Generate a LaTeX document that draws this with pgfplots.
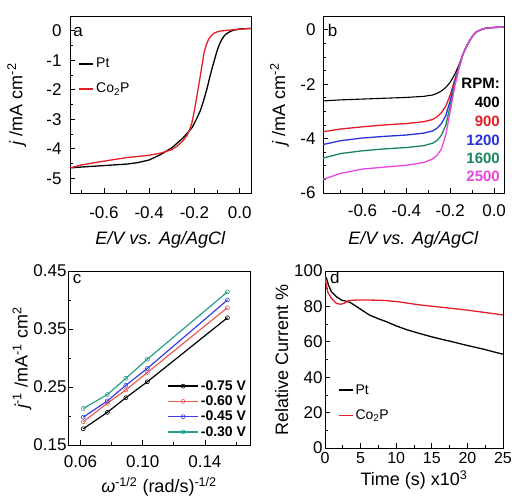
\documentclass[border=0pt]{standalone}
\usepackage{fontspec}
\setmainfont{Liberation Sans}
\usepackage{pgfplots}
\pgfplotsset{compat=1.18}

\definecolor{cred}{RGB}{228,30,38}
\definecolor{cblue}{RGB}{40,50,220}
\definecolor{cgreen}{RGB}{25,135,90}
\definecolor{cmag}{RGB}{232,70,222}
\definecolor{lred}{RGB}{238,90,85}
\definecolor{lblue}{RGB}{55,65,225}
\definecolor{lteal}{RGB}{40,160,140}

\pgfplotsset{
  panel/.style={
    scale only axis, anchor=south west,
    tick pos=left, tick align=inside,
    major tick length=5pt, minor tick length=3pt,
    every tick/.style={black, line width=0.7pt},
    axis line style={line width=0.8pt},
    /pgf/number format/assume math mode=true,
    tick label style={font=\fontsize{17}{19}\selectfont},
    label style={font=\fontsize{18}{20}\selectfont},
    xlabel style={anchor=center},
    ylabel style={anchor=center},
    legend cell align=left,
  },
  curve/.style={line width=1.3pt, mark=none},
  shortleg/.style={
    legend style={draw=none, fill=none, font=\fontsize{14}{16}\selectfont,
      row sep=10pt, inner sep=0pt},
    legend image code/.code={\draw[##1, line width=1.9pt] (0pt,0pt) -- (14pt,0pt);},
  },
}

\begin{document}
\begin{tikzpicture}
\path[use as bounding box] (0,0) rectangle (512pt,-501pt);

% ---- a ----
\begin{axis}[panel,
  at={(70pt,-193pt)}, width=181pt, height=177pt,
  xmin=-0.75, xmax=0.05, ymin=-5.5, ymax=0.5,
  xtick={-0.6,-0.4,-0.2,0}, minor xtick={-0.7,-0.5,-0.3,-0.1},
  ytick={-5,-4,-3,-2,-1,0}, minor ytick={-4.5,-3.5,-2.5,-1.5,-0.5},
  xticklabel style={/pgf/number format/.cd, fixed, fixed zerofill, precision=1, /tikz/.cd, yshift=-10pt},
  yticklabel style={xshift=-5pt},
  xlabel={\textit{E/V vs. Ag/AgCl}},
  ylabel={\textit{j} /mA cm\textsuperscript{-2}},
  xlabel style={at={(axis description cs:0.5,-0.266)}},
  ylabel style={at={(axis description cs:-0.295,0.5)}},
  shortleg,
  legend style={at={(axis description cs:0.045,0.775)}, anchor=north west},
]
\addplot[curve, black] coordinates {
 (-0.75,-4.65) (-0.7,-4.62) (-0.6,-4.57) (-0.5,-4.52) (-0.45,-4.47) (-0.4,-4.38)
 (-0.35,-4.2) (-0.3,-3.97) (-0.25,-3.63) (-0.21,-3.28) (-0.19,-2.98) (-0.174,-2.71)
 (-0.16,-2.38) (-0.145,-1.98) (-0.133,-1.6) (-0.123,-1.3) (-0.11,-0.95) (-0.1,-0.68)
 (-0.09,-0.47) (-0.078,-0.28) (-0.066,-0.15) (-0.056,-0.09) (-0.04,-0.02) (-0.027,0.02)
 (0,0.06) (0.05,0.08)};
\addlegendentry{Pt}
\addplot[curve, cred] coordinates {
 (-0.75,-4.65) (-0.7,-4.55) (-0.6,-4.42) (-0.5,-4.3) (-0.4,-4.22) (-0.35,-4.15)
 (-0.3,-4.03) (-0.278,-3.92) (-0.25,-3.72) (-0.233,-3.55) (-0.22,-3.33) (-0.211,-3.11)
 (-0.2,-2.7) (-0.189,-2.21) (-0.18,-1.8) (-0.174,-1.53) (-0.165,-1.1) (-0.157,-0.73)
 (-0.147,-0.47) (-0.137,-0.28) (-0.125,-0.16) (-0.115,-0.09) (-0.1,-0.04) (-0.086,-0.01)
 (-0.05,0.02) (0,0.05) (0.05,0.08)};
\addlegendentry{Co\textsubscript{2}P}
\node[anchor=base west, inner sep=0pt, font=\fontsize{17}{19}\selectfont] at (axis description cs:0.017,0.883) {a};
\end{axis}

% ---- b ----
\begin{axis}[panel,
  at={(323pt,-193pt)}, width=181pt, height=177pt,
  xmin=-0.78, xmax=0.045, ymin=-6, ymax=0.5,
  xtick={-0.6,-0.4,-0.2,0}, minor xtick={-0.7,-0.5,-0.3,-0.1},
  ytick={-6,-4,-2,0}, minor y tick num=3,
  xticklabel style={/pgf/number format/.cd, fixed, fixed zerofill, precision=1, /tikz/.cd, yshift=-8pt},
  yticklabel style={xshift=-4pt},
  xlabel={\textit{E/V vs. Ag/AgCl}},
  ylabel={\textit{j} /mA cm\textsuperscript{-2}},
  xlabel style={at={(axis description cs:0.5,-0.266)}},
  ylabel style={at={(axis description cs:-0.24,0.5)}},
]
\addplot[curve, black, line width=1.1pt] coordinates {
 (-0.78,-2.62) (-0.7,-2.58) (-0.6,-2.55) (-0.5,-2.52) (-0.4,-2.49) (-0.32,-2.45)
 (-0.28,-2.40) (-0.26,-2.34) (-0.24,-2.25) (-0.22,-2.12) (-0.2,-1.93) (-0.18,-1.65)
 (-0.16,-1.3) (-0.143,-0.92) (-0.125,-0.6) (-0.11,-0.38) (-0.095,-0.2) (-0.08,-0.08)
 (-0.06,0.0) (-0.04,0.05) (0,0.08) (0.045,0.09)};
\addplot[curve, cred] coordinates {
 (-0.78,-3.75) (-0.7,-3.65) (-0.6,-3.57) (-0.5,-3.5) (-0.4,-3.45) (-0.32,-3.38)
 (-0.28,-3.3) (-0.26,-3.2) (-0.24,-3.05) (-0.22,-2.8) (-0.2,-2.4) (-0.18,-1.85)
 (-0.16,-1.35) (-0.143,-0.92) (-0.125,-0.6) (-0.11,-0.38) (-0.095,-0.2) (-0.08,-0.08)
 (-0.06,0.0) (-0.04,0.05) (0,0.08) (0.045,0.09)};
\addplot[curve, cblue] coordinates {
 (-0.78,-4.22) (-0.7,-4.08) (-0.6,-3.98) (-0.5,-3.92) (-0.4,-3.87) (-0.32,-3.8)
 (-0.28,-3.72) (-0.26,-3.62) (-0.24,-3.45) (-0.22,-3.15) (-0.2,-2.6) (-0.18,-1.95)
 (-0.16,-1.38) (-0.143,-0.92) (-0.125,-0.6) (-0.11,-0.38) (-0.095,-0.2) (-0.08,-0.08)
 (-0.06,0.0) (-0.04,0.05) (0,0.08) (0.045,0.09)};
\addplot[curve, cgreen] coordinates {
 (-0.78,-4.72) (-0.7,-4.55) (-0.6,-4.45) (-0.5,-4.38) (-0.4,-4.33) (-0.32,-4.26)
 (-0.28,-4.17) (-0.26,-4.07) (-0.24,-3.88) (-0.22,-3.5) (-0.2,-2.8) (-0.18,-2.02)
 (-0.16,-1.4) (-0.143,-0.93) (-0.125,-0.6) (-0.11,-0.38) (-0.095,-0.2) (-0.08,-0.08)
 (-0.06,0.0) (-0.04,0.05) (0,0.08) (0.045,0.09)};
\addplot[curve, cmag] coordinates {
 (-0.78,-5.5) (-0.7,-5.28) (-0.6,-5.12) (-0.5,-5.05) (-0.4,-4.98) (-0.32,-4.88)
 (-0.28,-4.75) (-0.26,-4.62) (-0.24,-4.38) (-0.22,-3.85) (-0.2,-3.0) (-0.18,-2.1)
 (-0.16,-1.42) (-0.143,-0.94) (-0.125,-0.6) (-0.11,-0.38) (-0.095,-0.2) (-0.08,-0.08)
 (-0.06,0.0) (-0.04,0.05) (0,0.08) (0.045,0.1)};
\begin{scope}[every node/.style={anchor=east, inner sep=0pt, font=\bfseries\fontsize{15}{17}\selectfont}]
\node[text=black] at (axis description cs:0.978,0.62) {RPM:};
\node[text=black] at (axis description cs:0.978,0.51) {400};
\node[text=cred] at (axis description cs:0.978,0.405) {900};
\node[text=cblue] at (axis description cs:0.978,0.30) {1200};
\node[text=cgreen] at (axis description cs:0.978,0.196) {1600};
\node[text=cmag] at (axis description cs:0.978,0.092) {2500};
\end{scope}
\node[anchor=base west, inner sep=0pt, font=\fontsize{17}{19}\selectfont] at (axis description cs:0.026,0.883) {b};
\end{axis}

% ---- c ----
\begin{axis}[panel,
  at={(68pt,-445pt)}, width=182pt, height=174pt,
  xmin=0.052, xmax=0.169, ymin=0.15, ymax=0.45,
  xtick={0.06,0.10,0.14}, minor xtick={0.08,0.12,0.16},
  ytick={0.15,0.25,0.35,0.45}, minor ytick={0.20,0.30,0.40},
  xticklabel style={/pgf/number format/.cd, fixed, fixed zerofill, precision=2, /tikz/.cd, yshift=-7pt},
  yticklabel style={/pgf/number format/.cd, fixed, fixed zerofill, precision=2, /tikz/.cd, xshift=2pt},
  xlabel={\textit{ω}\textsuperscript{-1/2} (rad/s)\textsuperscript{-1/2}},
  ylabel={\textit{j}\textsuperscript{-1} /mA\textsuperscript{-1} cm\textsuperscript{2}},
  xlabel style={at={(axis description cs:0.5,-0.24)}},
  ylabel style={at={(axis description cs:-0.253,0.5)}},
  legend style={at={(axis description cs:0.99,0.03)}, anchor=south east,
    draw=none, fill=none, font=\bfseries\fontsize{14}{16}\selectfont, row sep=0pt, inner sep=0pt},
  legend image code/.code={\draw[mark repeat=2, mark phase=2, #1, line width=1.6pt] plot coordinates {(0pt,0pt) (15pt,0pt) (30pt,0pt)};},
  every axis plot/.append style={line width=1.2pt, mark=o, mark size=2pt, mark options={fill=white, line width=0.6pt}},
]
\addplot[black] coordinates {(0.0618,0.178) (0.0773,0.2063) (0.0892,0.2316) (0.1030,0.259) (0.1545,0.3695)};
\addlegendentry{-0.75 V}
\addplot[lred] coordinates {(0.0618,0.190) (0.0773,0.222) (0.0892,0.245) (0.1030,0.275) (0.1545,0.3868)};
\addlegendentry{-0.60 V}
\addplot[lblue] coordinates {(0.0618,0.198) (0.0773,0.226) (0.0892,0.253) (0.1030,0.282) (0.1545,0.400)};
\addlegendentry{-0.45 V}
\addplot[lteal] coordinates {(0.0618,0.213) (0.0773,0.237) (0.0892,0.265) (0.1030,0.298) (0.1545,0.414)};
\addlegendentry{-0.30 V}
\node[anchor=base west, inner sep=0pt, font=\fontsize{17}{19}\selectfont] at (axis description cs:0.026,0.929) {c};
\end{axis}

% ---- d ----
\begin{axis}[panel,
  at={(325pt,-448pt)}, width=178pt, height=177pt,
  xmin=0, xmax=25, ymin=0, ymax=100,
  xtick={0,5,10,15,20,25}, minor xtick={2.5,7.5,12.5,17.5,22.5},
  ytick={0,20,40,60,80,100}, minor ytick={10,30,50,70,90},
  xticklabel style={yshift=-1pt, font=\fontsize{16}{18}\selectfont},
  yticklabel style={xshift=1pt},
  xlabel={Time (s) x10\textsuperscript{3}},
  ylabel={Relative Current \%},
  xlabel style={at={(axis description cs:0.5,-0.18)}},
  ylabel style={at={(axis description cs:-0.244,0.5)}},
  shortleg,
  legend style={at={(axis description cs:0.07,0.37)}, anchor=north west},
]
\addplot[curve, black] coordinates {
 (0,97) (0.2,96) (0.5,92) (0.9,88.3) (1.6,85.5) (2.3,83.6) (3.0,82.9) (3.5,82.3)
 (4.4,80) (5.3,77.6) (6.25,75.1) (7.5,73) (8.6,71.4) (10,69) (11.5,66.8) (13.2,64.8)
 (15,62.8) (16.5,61.3) (17.8,60.1) (19.5,58.4) (21,57) (22.5,55.6) (24,54) (25,53)};
\addlegendentry{Pt}
\addplot[curve, cred] coordinates {
 (0,97) (0.15,93) (0.4,88) (0.9,84.6) (1.6,81.7) (2.2,81.2) (2.7,81.8) (3.3,83.3)
 (4.5,83.6) (6,83.6) (7.5,83.5) (8.6,83.3) (10.3,82.6) (12,81.6) (13.2,80.9) (15,80.1)
 (17.8,78.9) (20,77.9) (22.4,76.6) (25,75.2)};
\addlegendentry{Co\textsubscript{2}P}
\node[anchor=base west, inner sep=0pt, font=\fontsize{17}{19}\selectfont] at (axis description cs:0.028,0.93) {d};
\end{axis}
\end{tikzpicture}
\end{document}
